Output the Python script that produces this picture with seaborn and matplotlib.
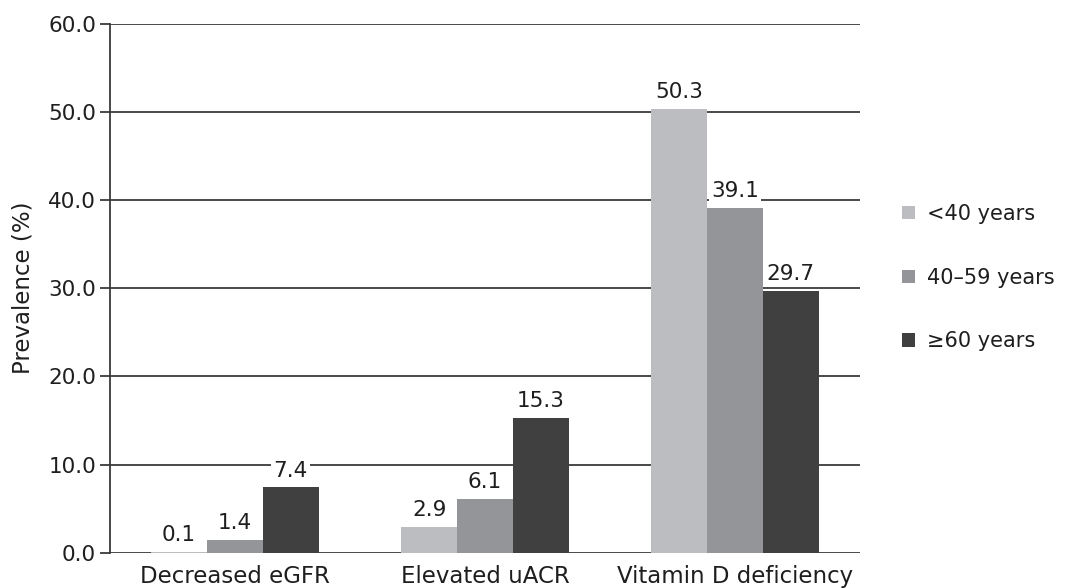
import numpy as np
import pandas as pd
import matplotlib
matplotlib.use('Agg')
import matplotlib.pyplot as plt
import seaborn as sns

categories = ['Decreased eGFR', 'Elevated uACR', 'Vitamin D deficiency']
groups = ['<40 years', '40\u201359 years', '\u226560 years']
under40 = [0.1, 2.9, 50.3]
age40_59 = [1.4, 6.1, 39.1]
over60 = [7.4, 15.3, 29.7]
yticks = [0, 10, 20, 30, 40, 50, 60]

COLORS = ['#bcbdc0', '#939598', '#404040']
TXT = '#1e1e1e'

df = pd.DataFrame({
    'category': categories * 3,
    'group': [g for g in groups for _ in categories],
    'value': under40 + age40_59 + over60,
})

sns.set_style('white')
plt.rcParams['font.family'] = ['DejaVu Sans']

fig = plt.figure(figsize=(10.67, 5.88), dpi=100)
ax = fig.add_axes([0.103, 0.06, 0.703, 0.9])

sns.barplot(data=df, x='category', y='value', hue='group', palette=COLORS,
            width=0.67, saturation=1, ax=ax, zorder=3, legend=True,
            linewidth=0)

ax.set_axisbelow(True)
ax.set_ylim(0, 60)
ax.set_xlim(-0.5, 2.5)
ax.set_yticks(yticks)
ax.set_yticklabels([f'{v:.1f}' for v in yticks])
for y in yticks:
    ax.axhline(y, color='#3a3a3a', lw=1.3, zorder=1)

for c in ax.containers:
    ax.bar_label(c, fmt='%.1f', padding=5, fontsize=15.5, color=TXT,
                 bbox=dict(facecolor='white', edgecolor='none', pad=1.5),
                 zorder=5)

for s in ['top', 'right', 'bottom']:
    ax.spines[s].set_visible(False)
ax.spines['left'].set_color('#3a3a3a')
ax.spines['left'].set_linewidth(1.3)
ax.tick_params(axis='y', left=True, length=7, width=1.3, color='#3a3a3a',
               labelsize=15.5, labelcolor=TXT, pad=3)
ax.tick_params(axis='x', bottom=False, labelsize=16.5, labelcolor=TXT, pad=5)
ax.set_xlabel('')
ax.set_ylabel('Prevalence (%)', fontsize=16.5, color=TXT, labelpad=10)

ax.legend(loc='center left', bbox_to_anchor=(1.045, 0.52), frameon=False,
          fontsize=15, handlelength=0.6, handleheight=0.6, labelspacing=2.1,
          handletextpad=0.6, labelcolor=TXT, borderaxespad=0)

fig.savefig('out.png', dpi=100)
